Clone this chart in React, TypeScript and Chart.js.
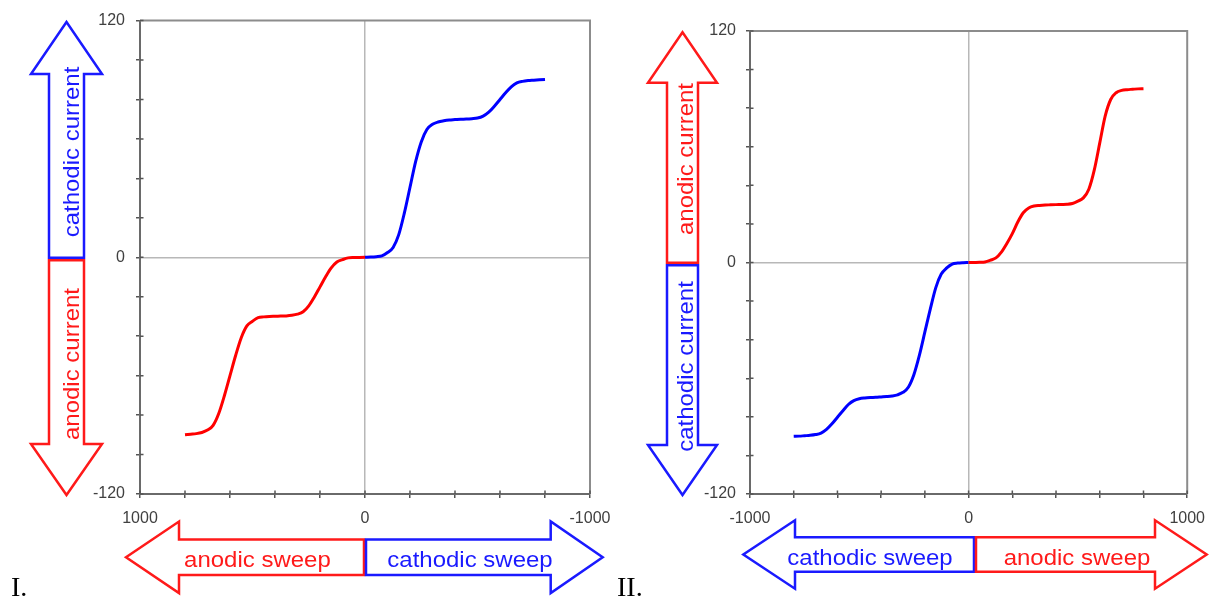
import React, { useEffect, useRef } from "react";
import { Chart, registerables } from "chart.js";

Chart.register(...registerables);

// ---- data (potential magnitude in mV, current in arbitrary units) ----
const sweepPotential = [
  0, 25, 50, 75, 100, 125, 150, 175, 200, 225, 250, 275, 300, 325, 350, 375, 400,
  425, 450, 475, 500, 525, 550, 575, 600, 625, 650, 675, 700, 725, 750, 775, 800,
];

// Panel I: cathodic sweep (blue, toward negative potentials)
const cathodicCurrentI = [
  0, 0.1, 0.3, 0.7, 2.4, 5.0, 11.5, 22.5, 35.5, 48.5, 58.5, 64.8, 67.4, 68.6, 69.2, 69.6, 69.8,
  70, 70.1, 70.3, 70.6, 71.6, 73.6, 76.6, 80, 83.4, 86.4, 88.4, 89.2, 89.6, 89.8, 90, 90.2,
];
// Panel I: anodic sweep (red, toward positive potentials)
const anodicCurrentI = [
  0, -0.05, -0.1, -0.3, -1.2, -2.4, -5.4, -9.9, -15, -20.1, -24.6, -27.6, -28.8, -29.4, -29.7, -29.8, -29.9,
  -30, -30.2, -30.6, -32.4, -34.8, -40.8, -49.8, -60, -70.2, -79.2, -85.2, -87.6, -88.8, -89.4, -89.7, -90,
];
// Panel II: anodic sweep (red, toward positive potentials)
const anodicCurrentII = [
  0, 0.05, 0.1, 0.3, 1.2, 2.4, 5.4, 9.9, 15, 21, 25.8, 28.3, 29.3, 29.6, 29.8, 29.9, 30,
  30.1, 30.2, 30.6, 31.8, 33.5, 38, 48, 62, 76, 84.5, 88, 89.2, 89.6, 89.8, 90, 90.1,
];
// Panel II: cathodic sweep (blue, toward negative potentials)
const cathodicCurrentII = [
  0, -0.1, -0.3, -0.8, -2.8, -6, -13, -24, -36, -48, -58, -64.5, -67.3, -68.6, -69.2, -69.5, -69.7,
  -69.9, -70, -70.2, -70.6, -71.6, -73.6, -76.8, -80.2, -83.6, -86.5, -88.4, -89.2, -89.6, -89.8, -90, -90.1,
];

const xLabeledTicks = [-1000, 0, 1000];
const yLabeledTicks = [-120, 0, 120];
const xLimits = [-1000, 1000];
const yLimits = [-120, 120];
const xStep = 200;
const yStep = 20;

// ---- styles ----
const RED = "#ff0000";
const BLUE = "#0000ff";
const ARROW_RED = "#ff1a1a";
const ARROW_BLUE = "#1a1aff";
const SANS = "'Liberation Sans', Arial, sans-serif";
const SERIF = "'Liberation Serif', 'Times New Roman', serif";

type Pt = [number, number];

const panelI = {
  reverse: true,
  padding: { left: 80, right: 626, top: 20, bottom: 65 },
  yTickPad: 11,
  anodic: anodicCurrentI,
  cathodic: cathodicCurrentI,
  v: {
    cx: 66.5, sh: 17.5, hh: 35.5,
    topTip: 22, topBase: 74, topEnd: 257.7,
    botStart: 260.2, botBase: 444, botTip: 495,
    topColor: ARROW_BLUE, topText: "cathodic current", topTextY: 152,
    botColor: ARROW_RED, botText: "anodic current", botTextY: 364,
    textX: 78.5,
  },
  h: {
    cy: 557.3, sh: 17.8, hh: 35.8,
    leftTip: 126, leftBase: 179, leftEnd: 364,
    rightStart: 366, rightBase: 550.7, rightTip: 602.7,
    leftColor: ARROW_RED, leftText: "anodic sweep", leftTextX: 257.4,
    rightColor: ARROW_BLUE, rightText: "cathodic sweep", rightTextX: 470,
    textY: 566.5,
  },
  label: { text: "I.", x: 11, y: 596 },
};

const panelII = {
  reverse: false,
  padding: { left: 690, right: 19, top: 31, bottom: 65 },
  yTickPad: 10,
  anodic: anodicCurrentII,
  cathodic: cathodicCurrentII,
  v: {
    cx: 682.5, sh: 15.5, hh: 34.5,
    topTip: 32.3, topBase: 82.7, topEnd: 262.7,
    botStart: 265.2, botBase: 445, botTip: 495,
    topColor: ARROW_RED, topText: "anodic current", topTextY: 159,
    botColor: ARROW_BLUE, botText: "cathodic current", botTextY: 366.5,
    textX: 693,
  },
  h: {
    cy: 554.5, sh: 17.2, hh: 34.2,
    leftTip: 743.3, leftBase: 795, leftEnd: 974,
    rightStart: 976, rightBase: 1155, rightTip: 1206.7,
    leftColor: ARROW_BLUE, leftText: "cathodic sweep", leftTextX: 870,
    rightColor: ARROW_RED, rightText: "anodic sweep", rightTextX: 1077,
    textY: 565,
  },
  label: { text: "II.", x: 617, y: 596 },
};

function poly(ctx: CanvasRenderingContext2D, pts: Pt[], color: string) {
  ctx.beginPath();
  ctx.moveTo(pts[0][0], pts[0][1]);
  for (let i = 1; i < pts.length; i++) ctx.lineTo(pts[i][0], pts[i][1]);
  ctx.closePath();
  ctx.strokeStyle = color;
  ctx.stroke();
}

function makeAnnotationPlugin(p: any) {
  return {
    id: "arrowAnnotations",
    afterDraw(chart: any) {
      const ctx: CanvasRenderingContext2D = chart.ctx;
      ctx.save();
      ctx.lineWidth = 2.5;
      ctx.lineJoin = "miter";
      const v = p.v;
      poly(ctx, [
        [v.cx - v.sh, v.topEnd], [v.cx - v.sh, v.topBase], [v.cx - v.hh, v.topBase],
        [v.cx, v.topTip], [v.cx + v.hh, v.topBase], [v.cx + v.sh, v.topBase], [v.cx + v.sh, v.topEnd],
      ], v.topColor);
      poly(ctx, [
        [v.cx - v.sh, v.botStart], [v.cx - v.sh, v.botBase], [v.cx - v.hh, v.botBase],
        [v.cx, v.botTip], [v.cx + v.hh, v.botBase], [v.cx + v.sh, v.botBase], [v.cx + v.sh, v.botStart],
      ], v.botColor);
      const h = p.h;
      poly(ctx, [
        [h.leftEnd, h.cy - h.sh], [h.leftBase, h.cy - h.sh], [h.leftBase, h.cy - h.hh],
        [h.leftTip, h.cy], [h.leftBase, h.cy + h.hh], [h.leftBase, h.cy + h.sh], [h.leftEnd, h.cy + h.sh],
      ], h.leftColor);
      poly(ctx, [
        [h.rightStart, h.cy - h.sh], [h.rightBase, h.cy - h.sh], [h.rightBase, h.cy - h.hh],
        [h.rightTip, h.cy], [h.rightBase, h.cy + h.hh], [h.rightBase, h.cy + h.sh], [h.rightStart, h.cy + h.sh],
      ], h.rightColor);

      ctx.font = `22px ${SANS}`;
      ctx.textAlign = "center";
      ctx.textBaseline = "alphabetic";
      const vText = (text: string, x: number, y: number, color: string) => {
        ctx.save();
        ctx.translate(x, y);
        ctx.rotate(-Math.PI / 2);
        ctx.scale(1.09, 1);
        ctx.fillStyle = color;
        ctx.fillText(text, 0, 0);
        ctx.restore();
      };
      const hText = (text: string, x: number, y: number, color: string) => {
        ctx.save();
        ctx.translate(x, y);
        ctx.scale(1.09, 1);
        ctx.fillStyle = color;
        ctx.fillText(text, 0, 0);
        ctx.restore();
      };
      vText(v.topText, v.textX, v.topTextY, v.topColor);
      vText(v.botText, v.textX, v.botTextY, v.botColor);
      hText(h.leftText, h.leftTextX, h.textY, h.leftColor);
      hText(h.rightText, h.rightTextX, h.textY, h.rightColor);

      ctx.font = `28px ${SERIF}`;
      ctx.textAlign = "left";
      ctx.fillStyle = "#000";
      ctx.fillText(p.label.text, p.label.x, p.label.y);
      ctx.restore();
    },
  };
}

const framePlugin = {
  id: "frameAndStubs",
  beforeDatasetsDraw(chart: any) {
    const { ctx, chartArea: a, scales } = chart;
    ctx.save();
    ctx.strokeStyle = "#8c8c8c";
    ctx.lineWidth = 2;
    ctx.beginPath();
    ctx.moveTo(a.left, a.top);
    ctx.lineTo(a.right, a.top);
    ctx.lineTo(a.right, a.bottom);
    ctx.stroke();
    ctx.strokeStyle = "#555";
    ctx.lineWidth = 1.5;
    ctx.beginPath();
    scales.x.ticks.forEach((t: any) => {
      const px = scales.x.getPixelForValue(t.value);
      ctx.moveTo(px, a.bottom);
      ctx.lineTo(px, a.bottom - 3.5);
    });
    scales.y.ticks.forEach((t: any) => {
      const py = scales.y.getPixelForValue(t.value);
      ctx.moveTo(a.left, py);
      ctx.lineTo(a.left + 3.5, py);
    });
    ctx.stroke();
    ctx.restore();
  },
};

function makeChart(canvas: HTMLCanvasElement, p: any) {
  const gridCfg = {
    color: (c: any) => (c.tick && c.tick.value === 0 ? "#b8b8b8" : "rgba(0,0,0,0)"),
    lineWidth: 1.5,
    tickColor: "#555",
    tickWidth: 1.5,
    tickLength: 4,
    drawTicks: true,
  };
  const tickFont = { family: SANS, size: 16 };
  return new Chart(canvas, {
    type: "scatter",
    data: {
      datasets: [
        {
          data: sweepPotential.map((e, i) => ({ x: e, y: p.anodic[i] })),
          borderColor: RED,
          borderWidth: 3,
          showLine: true,
          pointRadius: 0,
          cubicInterpolationMode: "monotone",
        },
        {
          data: sweepPotential.map((e, i) => ({ x: -e, y: p.cathodic[i] })),
          borderColor: BLUE,
          borderWidth: 3,
          showLine: true,
          pointRadius: 0,
          cubicInterpolationMode: "monotone",
        },
      ],
    },
    options: {
      animation: false,
      responsive: false,
      maintainAspectRatio: false,
      layout: { padding: p.padding },
      plugins: { legend: { display: false }, tooltip: { enabled: false } },
      scales: {
        x: {
          type: "linear",
          min: xLimits[0],
          max: xLimits[1],
          reverse: p.reverse,
          afterFit: (s: any) => {
            s.height = 40;
          },
          ticks: {
            stepSize: xStep,
            autoSkip: false,
            maxRotation: 0,
            minRotation: 0,
            padding: 11,
            color: "#404040",
            font: tickFont,
            callback: (val: any) => (xLabeledTicks.includes(Number(val)) ? String(val) : ""),
          },
          grid: gridCfg,
          border: { color: "#6a6a6a", width: 2 },
        },
        y: {
          type: "linear",
          min: yLimits[0],
          max: yLimits[1],
          afterFit: (s: any) => {
            s.width = 60;
          },
          ticks: {
            stepSize: yStep,
            autoSkip: false,
            padding: p.yTickPad,
            color: "#404040",
            font: tickFont,
            callback: (val: any) => (yLabeledTicks.includes(Number(val)) ? String(val) : ""),
          },
          grid: gridCfg,
          border: { color: "#6a6a6a", width: 2 },
        },
      },
    } as any,
    plugins: [framePlugin, makeAnnotationPlugin(p)],
  } as any);
}

export default function App() {
  const ref1 = useRef<HTMLCanvasElement>(null);
  const ref2 = useRef<HTMLCanvasElement>(null);
  useEffect(() => {
    const c1 = makeChart(ref1.current!, panelI);
    const c2 = makeChart(ref2.current!, panelII);
    return () => {
      c1.destroy();
      c2.destroy();
    };
  }, []);
  const cstyle: React.CSSProperties = { position: "absolute", left: 0, top: 0, width: 1216, height: 599 };
  return (
    <div style={{ position: "absolute", left: 0, top: 0, width: 1216, height: 599, background: "#fff" }}>
      <canvas ref={ref1} width={1216} height={599} style={cstyle} />
      <canvas ref={ref2} width={1216} height={599} style={cstyle} />
    </div>
  );
}
